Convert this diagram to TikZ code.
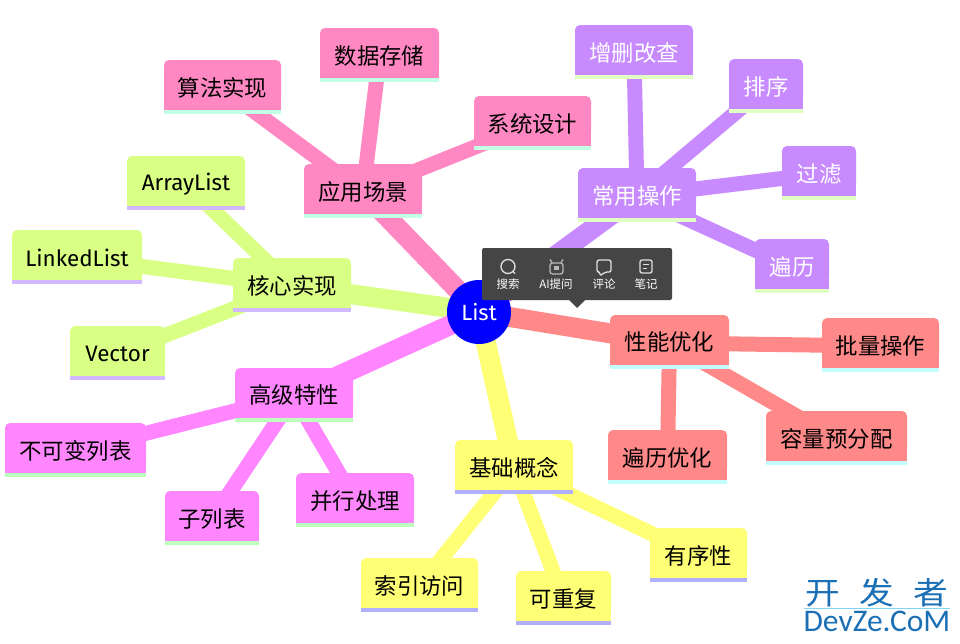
\documentclass[tikz,border=0pt]{standalone}
\usepackage{fontspec}
\setmainfont{Fira Sans}
\newfontfamily\cjk{Noto Sans CJK SC}
\newfontfamily\wmfont{Carlito}
\usetikzlibrary{backgrounds}
\definecolor{cpink}{HTML}{FF88C3}
\definecolor{spink}{HTML}{C2FFE4}
\definecolor{cpurple}{HTML}{C78BFF}
\definecolor{spurple}{HTML}{E2FFC4}
\definecolor{cgreen}{HTML}{DAFF85}
\definecolor{sgreen}{HTML}{D2B8FF}
\definecolor{cmag}{HTML}{FF86FF}
\definecolor{smag}{HTML}{BEFFBE}
\definecolor{cyel}{HTML}{FFFF75}
\definecolor{syel}{HTML}{B0B0FF}
\definecolor{csal}{HTML}{FF8888}
\definecolor{ssal}{HTML}{C4FFFF}
\definecolor{popup}{HTML}{454545}
\definecolor{wmblue}{HTML}{1A6FB5}
\definecolor{wmline}{HTML}{7FD4F5}
\tikzset{
  mmtext/.style={inner sep=0pt,font=\fontsize{22.4}{26}\selectfont,anchor=center},
  poplabel/.style={inner sep=0pt,text=white,font=\cjk\fontsize{11.5}{13}\selectfont},
  popicon/.style={draw=white!88!black,line width=1.3pt,line join=round},
  level one/.style={line width=20pt,line cap=butt},
  level two/.style={line width=15pt,line cap=butt}
}
% name x1 y1 x2 y2 colour stripe textcolour text
\newcommand{\mmbox}[9]{%
  \fill[#6,rounded corners=5pt] (#2,#3) rectangle (#4,#5-12);
  \fill[#6] (#2,#5-22) rectangle (#4,#5-4);
  \fill[#7] (#2,#5-4) rectangle (#4,#5);
  \node[mmtext,text=#8,minimum width={(#4-#2)*1pt},minimum height={(#5-#3)*1pt}] (#1) at ({(#2+#4)/2},{(#3+#5)/2+1}) {#9};
}
\newcommand{\mmedge}[4]{\begin{scope}[on background layer]\draw[#4,#3] (#1.center) -- (#2.center);\end{scope}}
\newcommand{\upby}[2]{\raisebox{#1}{#2}}
\begin{document}
\begin{tikzpicture}[x=1pt,y=-1pt]
\useasboundingbox (0,0) rectangle (960,643);

\node[circle,fill=blue,minimum size=64pt,inner sep=0pt,text=white,font=\fontsize{22}{26}\selectfont] (root) at (479,312) {List};

\mmbox{app}{304}{164}{422}{218}{cpink}{spink}{black}{\upby{2pt}{\cjk 应用场景}}
\mmbox{algo}{164}{60}{281}{114}{cpink}{spink}{black}{\cjk 算法实现}
\mmbox{store}{320}{28}{439}{82}{cpink}{spink}{black}{\cjk 数据存储}
\mmbox{sys}{474}{96}{591}{150}{cpink}{spink}{black}{\cjk 系统设计}

\mmbox{ops}{578}{168}{696}{222}{cpurple}{spurple}{white}{\upby{2pt}{\cjk 常用操作}}
\mmbox{crud}{575}{25}{693}{79}{cpurple}{spurple}{white}{\cjk 增删改查}
\mmbox{sort}{729}{59}{803}{113}{cpurple}{spurple}{white}{\cjk 排序}
\mmbox{filter}{782}{146}{856}{200}{cpurple}{spurple}{white}{\cjk 过滤}
\mmbox{iter}{755}{239}{829}{293}{cpurple}{spurple}{white}{\cjk 遍历}

\mmbox{core}{233}{258}{351}{312}{cgreen}{sgreen}{black}{\cjk 核心实现}
\mmbox{alist}{127}{156}{245}{210}{cgreen}{sgreen}{black}{ArrayList}
\mmbox{llist}{12}{230}{142}{284}{cgreen}{sgreen}{black}{LinkedList}
\mmbox{vec}{70}{326}{165}{380}{cgreen}{sgreen}{black}{Vector}

\mmbox{adv}{235}{368}{353}{422}{cmag}{smag}{black}{\upby{4pt}{\cjk 高级特性}}
\mmbox{immut}{5}{423}{146}{477}{cmag}{smag}{black}{\cjk 不可变列表}
\mmbox{sub}{165}{491}{259}{545}{cmag}{smag}{black}{\cjk 子列表}
\mmbox{par}{296}{473}{414}{527}{cmag}{smag}{black}{\cjk 并行处理}

\mmbox{basic}{455}{440}{573}{494}{cyel}{syel}{black}{\upby{2pt}{\cjk 基础概念}}
\mmbox{index}{361}{558}{478}{612}{cyel}{syel}{black}{\cjk 索引访问}
\mmbox{dup}{516}{571}{611}{625}{cyel}{syel}{black}{\cjk 可重复}
\mmbox{order}{650}{528}{747}{582}{cyel}{syel}{black}{\cjk 有序性}

\mmbox{perf}{610}{315}{729}{369}{csal}{ssal}{black}{\upby{4pt}{\cjk 性能优化}}
\mmbox{batch}{822}{318}{939}{372}{csal}{ssal}{black}{\cjk 批量操作}
\mmbox{iteropt}{608}{430}{727}{484}{csal}{ssal}{black}{\cjk 遍历优化}
\mmbox{cap}{766}{411}{907}{465}{csal}{ssal}{black}{\cjk 容量预分配}

\mmedge{root}{app}{level one}{cpink}
\mmedge{root}{ops}{level one}{cpurple}
\mmedge{root}{core}{level one}{cgreen}
\mmedge{root}{adv}{level one}{cmag}
\mmedge{root}{basic}{level one}{cyel}
\mmedge{root}{perf}{level one}{csal}
\mmedge{app}{algo}{level two}{cpink}
\mmedge{app}{store}{level two}{cpink}
\mmedge{app}{sys}{level two}{cpink}
\mmedge{ops}{crud}{level two}{cpurple}
\mmedge{ops}{sort}{level two}{cpurple}
\mmedge{ops}{filter}{level two}{cpurple}
\mmedge{ops}{iter}{level two}{cpurple}
\mmedge{core}{alist}{level two}{cgreen}
\mmedge{core}{llist}{level two}{cgreen}
\mmedge{core}{vec}{level two}{cgreen}
\mmedge{adv}{immut}{level two}{cmag}
\mmedge{adv}{sub}{level two}{cmag}
\mmedge{adv}{par}{level two}{cmag}
\mmedge{basic}{index}{level two}{cyel}
\mmedge{basic}{dup}{level two}{cyel}
\mmedge{basic}{order}{level two}{cyel}
\mmedge{perf}{batch}{level two}{csal}
\mmedge{perf}{iteropt}{level two}{csal}
\mmedge{perf}{cap}{level two}{csal}

% popup toolbar
\fill[popup,rounded corners=2pt] (482,248) rectangle (672,300);
\fill[popup] (569,300) -- (585,300) -- (577,308) -- cycle;
\node[poplabel] (l1) at (508,284.5) {搜索};
\node[poplabel] (l2) at (556,284.5) {AI提问};
\node[poplabel] (l3) at (604,284.5) {评论};
\node[poplabel] (l4) at (646,284.5) {笔记};
% search icon
\draw[popicon] (508,266.5) circle (7pt);
\draw[popicon] (513,271.5) -- (515,273.5);
% robot icon
\draw[popicon,draw=white!72!black,rounded corners=2.5pt] (550,263) rectangle (563,274);
\draw[popicon,draw=white!72!black] (552,262.5) -- (550,259.5) (561,262.5) -- (563,259.5);
\draw[popicon,draw=white!72!black] (554,267) -- (559,267) (554,269) -- (559,269);
% comment icon
\draw[popicon,rounded corners=2pt] (597,260) -- (611,260) -- (611,272) -- (605,272) -- (600,276) -- (600,272) -- (597,272) -- cycle;
% note icon
\draw[popicon,rounded corners=2pt] (640,260) rectangle (652,273);
\draw[popicon,line width=1.1pt] (643,264.5) -- (649,264.5) (643,268.5) -- (647,268.5);

% watermark
\node[inner sep=0pt,text=wmblue,font=\cjk\fontsize{31}{34}\selectfont] (wm1) at (877,593) {\scalebox{1.12}[1]{开}\hspace{19pt}\scalebox{1.12}[1]{发}\hspace{19pt}\scalebox{1.12}[1]{者}};
\coordinate (wma) at (804,608);
\coordinate (wmb) at (950,608);
\draw[wmline,line width=1pt] (wma) -- (wmb);
\node[inner sep=0pt,text=wmblue,font=\wmfont\fontsize{31.5}{35}\selectfont] (wm2) at (877,621) {DevZe.CoM};
\end{tikzpicture}
\end{document}
